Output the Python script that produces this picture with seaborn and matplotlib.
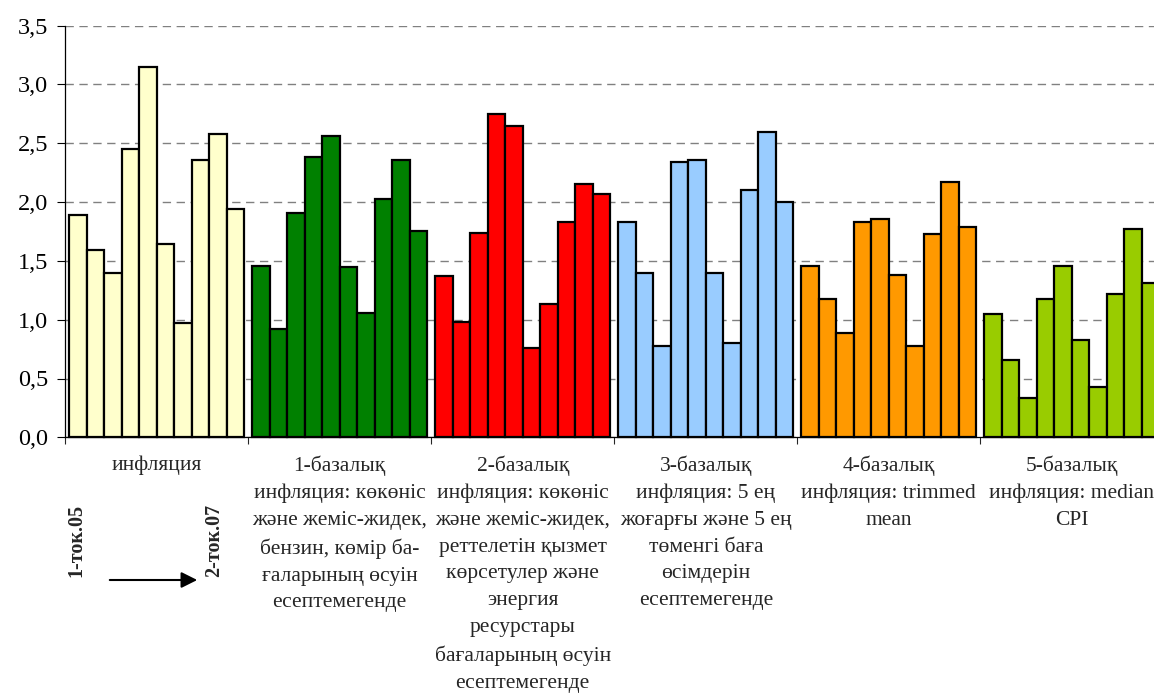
import matplotlib
matplotlib.use("Agg")
import matplotlib.pyplot as plt
import numpy as np
import pandas as pd
import seaborn as sns

# Indicator groups (x-axis categories)
categories = [
    "инфляция",
    "1-базалық\nинфляция: көкөніс\nжәне жеміс-жидек,\nбензин, көмір ба-\nғаларының өсуін\nесептемегенде",
    "2-базалық\nинфляция: көкөніс\nжәне жеміс-жидек,\nреттелетін қызмет\nкөрсетулер және\nэнергия\nресурстары\nбағаларының өсуін\nесептемегенде",
    "3-базалық\nинфляция: 5 ең\nжоғарғы және 5 ең\nтөменгі баға\nөсімдерін\nесептемегенде",
    "4-базалық\nинфляция: trimmed\nmean",
    "5-базалық\nинфляция: median\nCPI",
]

# Ten consecutive periods, from 1-ток.05 to 2-ток.07
periods = [f"p{i}" for i in range(1, 11)]

headline = [1.89, 1.59, 1.40, 2.45, 3.15, 1.64, 0.97, 2.36, 2.58, 1.94]
core_1 = [1.46, 0.92, 1.91, 2.38, 2.56, 1.45, 1.06, 2.03, 2.36, 1.75]
core_2 = [1.37, 0.98, 1.74, 2.75, 2.65, 0.76, 1.13, 1.83, 2.15, 2.07]
core_3 = [1.83, 1.40, 0.78, 2.34, 2.36, 1.40, 0.80, 2.10, 2.60, 2.00]
core_4 = [1.46, 1.18, 0.89, 1.83, 1.86, 1.38, 0.78, 1.73, 2.17, 1.79]
core_5 = [1.05, 0.66, 0.33, 1.18, 1.46, 0.83, 0.43, 1.22, 1.77, 1.31]

series = [headline, core_1, core_2, core_3, core_4, core_5]
group_colors = ["#FFFFCC", "#008000", "#FF0000", "#99CCFF", "#FF9900", "#99CC00"]

y_ticks = [0.0, 0.5, 1.0, 1.5, 2.0, 2.5, 3.0, 3.5]
y_tick_labels = ["0,0", "0,5", "1,0", "1,5", "2,0", "2,5", "3,0", "3,5"]

df = pd.DataFrame(
    [(cat, per, val)
     for cat, vals in zip(categories, series)
     for per, val in zip(periods, vals)],
    columns=["category", "period", "value"],
)

sns.set_theme(style="white")
plt.rcParams["font.family"] = ["Liberation Serif", "DejaVu Serif"]

fig = plt.figure(figsize=(11.54, 6.93), dpi=100)
ax = fig.add_axes([65 / 1154, 1 - 437.3 / 693, 1098.5 / 1154, (437.3 - 25.7) / 693])

sns.barplot(
    data=df, x="category", y="value", hue="period",
    order=categories, hue_order=periods,
    width=0.956, gap=0, dodge=True, legend=False,
    edgecolor="black", linewidth=1.6, saturation=1,
    ax=ax, zorder=3,
)

# colour every bar by its indicator group
for container in ax.containers:
    for i, bar in enumerate(container):
        bar.set_facecolor(group_colors[i])
        bar.set_edgecolor("black")
        bar.set_clip_on(False)

ax.set_xlim(-0.5, len(categories) - 0.5)
ax.set_ylim(0, 3.5)
ax.set_xlabel("")
ax.set_ylabel("")

ax.set_yticks(y_ticks)
ax.set_yticklabels(y_tick_labels, fontsize=17.5)
ax.tick_params(axis="y", direction="out", length=6, width=0.8, pad=6, colors="black", left=True)

# tick marks between groups, labels centred under each group
ax.set_xticks(np.arange(len(categories) + 1) - 0.5)
ax.set_xticklabels([])
ax.set_xticks(np.arange(len(categories)), minor=True)
ax.set_xticklabels(categories, minor=True, fontsize=15.5, linespacing=1.55, va="top")
ax.tick_params(axis="x", which="major", direction="out", length=5, width=0.8, bottom=True)
ax.tick_params(axis="x", which="minor", length=0, pad=13)

ax.yaxis.grid(True, color="#808080", linestyle=(0, (6, 4)), linewidth=1.0, zorder=0)
ax.xaxis.grid(False)
ax.set_axisbelow(True)

for side in ["top", "right"]:
    ax.spines[side].set_visible(False)
for side in ["left", "bottom"]:
    ax.spines[side].set_color("black")
    ax.spines[side].set_linewidth(0.9)
    ax.spines[side].set_zorder(4)

# period range marker under the first group
fig.text(76 / 1154, 1 - 540 / 693, "1-ток.05", rotation=90, ha="center", va="center",
         fontsize=14.5, fontweight="bold")
fig.text(214 / 1154, 1 - 540 / 693, "2-ток.07", rotation=90, ha="center", va="center",
         fontsize=14.5, fontweight="bold")
fig.patches.append(matplotlib.patches.FancyArrowPatch(
    (107 / 1154, 1 - 580 / 693), (200 / 1154, 1 - 580 / 693),
    transform=fig.transFigure, arrowstyle="-|>", mutation_scale=24,
    color="black", linewidth=1.5,
))

fig.savefig("out.png", dpi=100)
